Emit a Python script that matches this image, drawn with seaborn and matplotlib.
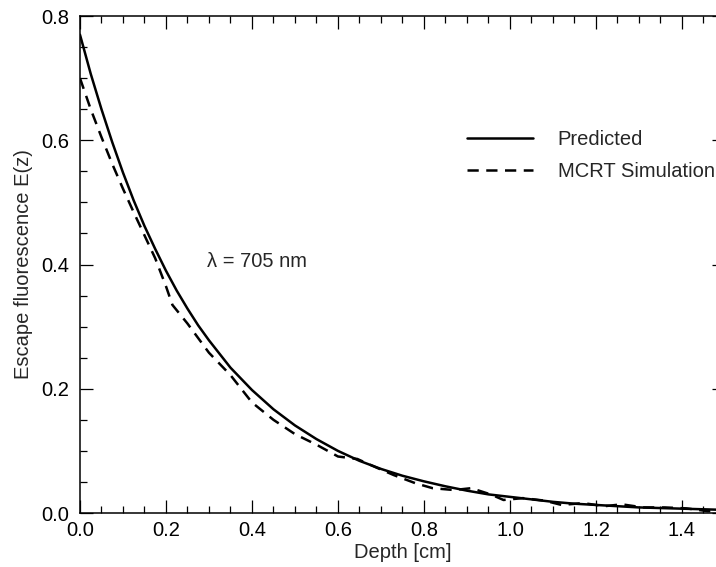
import numpy as np
import pandas as pd
import matplotlib
matplotlib.use('Agg')
import matplotlib.pyplot as plt
import seaborn as sns
from matplotlib.ticker import MultipleLocator

# values
depth_pred = [0.0, 0.025, 0.05, 0.075, 0.1, 0.125, 0.15, 0.175, 0.2, 0.225, 0.25, 0.275, 0.3,
              0.35, 0.4, 0.45, 0.5, 0.55, 0.6, 0.65, 0.7, 0.75, 0.8, 0.85, 0.9, 0.95, 1.0,
              1.05, 1.1, 1.15, 1.2, 1.25, 1.3, 1.35, 1.4, 1.45, 1.5]
escape_pred = [0.770, 0.707, 0.650, 0.597, 0.548, 0.503, 0.462, 0.425, 0.390, 0.358, 0.329, 0.302, 0.278,
               0.234, 0.198, 0.167, 0.141, 0.119, 0.100, 0.084, 0.071, 0.060, 0.051, 0.043, 0.036, 0.030, 0.026,
               0.022, 0.018, 0.015, 0.013, 0.011, 0.009, 0.008, 0.007, 0.006, 0.005]

depth_mcrt = [0.0, 0.025, 0.05, 0.075, 0.1, 0.125, 0.15, 0.175, 0.2, 0.215, 0.25, 0.3, 0.35, 0.4,
              0.45, 0.5, 0.55, 0.6, 0.645, 0.69, 0.73, 0.78, 0.82, 0.87, 0.91, 0.955, 0.985, 1.03,
              1.08, 1.12, 1.17, 1.22, 1.26, 1.31, 1.36, 1.41, 1.46, 1.5]
escape_mcrt = [0.700, 0.650, 0.605, 0.562, 0.522, 0.484, 0.447, 0.410, 0.365, 0.335, 0.305, 0.258, 0.222, 0.178,
               0.150, 0.127, 0.110, 0.091, 0.087, 0.073, 0.061, 0.048, 0.040, 0.037, 0.040, 0.030, 0.021, 0.024,
               0.020, 0.013, 0.016, 0.011, 0.014, 0.009, 0.009, 0.0075, 0.003, 0.003]

series_labels = ['Predicted', 'MCRT Simulation']
annot = '\u03bb = 705 nm'

df_pred = pd.DataFrame({'depth': depth_pred, 'E': escape_pred})
df_mcrt = pd.DataFrame({'depth': depth_mcrt, 'E': escape_mcrt})

sns.set_style('ticks')
plt.rcParams['font.family'] = ['Liberation Sans', 'DejaVu Sans']
fs = 14.5

fig = plt.figure(figsize=(7.16, 5.67), dpi=100)
ax = fig.add_axes([0.1117, 0.0952, 0.9008, 0.8765])

sns.lineplot(data=df_pred, x='depth', y='E', color='black', linewidth=1.8,
             estimator=None, label=series_labels[0], ax=ax)
sns.lineplot(data=df_mcrt, x='depth', y='E', color='black', linewidth=1.8,
             estimator=None, label=series_labels[1], ax=ax)
ax.lines[1].set_dashes([4.5, 3])

ax.set_xlim(0, 1.5)
ax.set_ylim(0, 0.8)
ax.xaxis.set_major_locator(MultipleLocator(0.2))
ax.xaxis.set_minor_locator(MultipleLocator(0.05))
ax.yaxis.set_major_locator(MultipleLocator(0.2))
ax.yaxis.set_minor_locator(MultipleLocator(0.05))
ax.xaxis.set_major_formatter(matplotlib.ticker.FormatStrFormatter('%.1f'))
ax.yaxis.set_major_formatter(matplotlib.ticker.FormatStrFormatter('%.1f'))
ax.tick_params(which='both', direction='in', top=True, right=True, width=0.9, colors='black', labelsize=fs)
ax.tick_params(which='major', length=9.5)
ax.tick_params(which='minor', length=5)
ax.tick_params(axis='x', pad=6)
ax.tick_params(axis='y', pad=8)
for sp in ax.spines.values():
    sp.set_linewidth(1.1)
    sp.set_color('black')

ax.set_xlabel('Depth [cm]', fontsize=fs, labelpad=2)
ax.set_ylabel('Escape fluorescence E(z)', fontsize=fs, labelpad=6)

ax.text(0.295, 0.405, annot, fontsize=fs, ha='left', va='center')

ax.legend(loc='upper left', bbox_to_anchor=(0.600, 0.77), frameon=False, fontsize=fs,
          handlelength=3.3, handletextpad=1.2, labelspacing=0.65, borderpad=0, borderaxespad=0)

fig.savefig('out.png', dpi=100)
